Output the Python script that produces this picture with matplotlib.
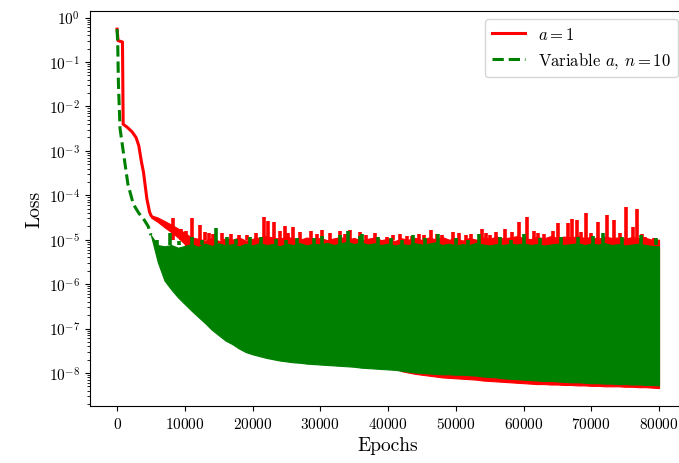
import numpy as np
import matplotlib
matplotlib.use("Agg")
import matplotlib.pyplot as plt

plt.rcParams['font.family'] = 'serif'
plt.rcParams['font.serif'] = ['cmr10']
plt.rcParams['mathtext.fontset'] = 'cm'
plt.rcParams['axes.formatter.use_mathtext'] = True

# --- early smooth part (log10 of loss) ---
red_x = [0, 150, 800, 900, 1500, 2200, 2800, 3200, 3600, 3900, 4400, 4800, 5000]
red_log = [-0.26, -0.52, -0.55, -2.40, -2.47, -2.57, -2.70, -2.88, -3.25, -3.48, -4.08, -4.38, -4.45]

green_x = [0, 100, 200, 440, 900, 1600, 2400, 3200, 3900, 4600, 5000]
green_log = [-0.26, -0.60, -1.50, -2.50, -3.00, -3.75, -4.20, -4.40, -4.53, -4.70, -4.90]

# --- oscillating band, sampled every 1000 epochs from 5000 to 80000 ---
band_x = np.arange(5000, 80001, 1000)

green_low = [-4.90, -5.50, -5.92, -6.12, -6.30, -6.45, -6.60, -6.74, -6.88, -7.03,
             -7.15, -7.27, -7.35, -7.45, -7.53, -7.58, -7.62, -7.66, -7.69, -7.72,
             -7.74, -7.76, -7.77, -7.79, -7.80, -7.81, -7.82, -7.83, -7.84, -7.85,
             -7.86, -7.88, -7.89, -7.90, -7.91, -7.92, -7.93, -7.95, -7.97, -7.99,
             -8.00, -8.01, -8.02, -8.03, -8.03, -8.04, -8.04, -8.05, -8.06, -8.08,
             -8.09, -8.10, -8.12, -8.13, -8.14, -8.15, -8.16, -8.17, -8.18, -8.18,
             -8.19, -8.20, -8.21, -8.21, -8.22, -8.23, -8.23, -8.24, -8.24, -8.25,
             -8.25, -8.26, -8.26, -8.27, -8.27, -8.28]

green_top = [-4.90, -5.12, -5.15, -5.12, -5.18, -5.14, -5.10, -5.16, -5.09, -5.14,
             -5.08, -5.13, -5.10, -5.15, -5.09, -5.13, -5.08, -5.12, -5.10, -5.15,
             -5.09, -5.12, -5.08, -5.13, -5.09, -5.11, -5.07, -5.12, -5.08, -5.05,
             -5.10, -5.06, -5.11, -5.08, -5.12, -5.09, -5.13, -5.10, -5.12, -5.08,
             -5.11, -5.09, -5.06, -5.12, -5.09, -5.13, -5.10, -5.12, -5.07, -5.11,
             -5.13, -5.10, -5.12, -5.09, -5.11, -5.08, -5.12, -5.10, -5.13, -5.11,
             -5.09, -5.12, -5.10, -5.08, -5.12, -5.09, -5.11, -5.08, -5.12, -5.10,
             -5.13, -5.11, -5.09, -5.12, -5.14, -5.15]

red_low = [-4.50, -4.60, -4.72, -4.83, -4.95, -5.10, -5.60, -6.50, -6.83, -6.98,
           -7.10, -7.22, -7.30, -7.40, -7.48, -7.53, -7.57, -7.61, -7.64, -7.67,
           -7.69, -7.71, -7.72, -7.74, -7.75, -7.76, -7.77, -7.78, -7.79, -7.80,
           -7.81, -7.83, -7.84, -7.85, -7.86, -7.87, -7.88, -7.96, -7.99, -8.02,
           -8.04, -8.06, -8.08, -8.10, -8.11, -8.12, -8.13, -8.14, -8.15, -8.17,
           -8.18, -8.19, -8.20, -8.21, -8.22, -8.23, -8.24, -8.25, -8.25, -8.26,
           -8.26, -8.27, -8.27, -8.28, -8.28, -8.29, -8.29, -8.30, -8.30, -8.30,
           -8.31, -8.31, -8.32, -8.32, -8.33, -8.34]

red_top = [-4.45, -4.50, -4.58, -4.66, -4.75, -4.85, -4.95, -4.98, -5.02, -4.96,
           -5.03, -4.97, -5.00, -4.95, -5.02, -4.98, -4.95, -4.92, -4.95, -4.98,
           -4.93, -4.97, -5.00, -4.95, -5.00, -4.96, -5.01, -4.97, -4.94, -5.00,
           -4.96, -5.02, -4.98, -4.95, -5.01, -4.98, -5.03, -4.97, -5.00, -4.96,
           -5.01, -4.95, -4.99, -4.94, -5.00, -4.97, -5.02, -4.96, -5.00, -4.95,
           -4.98, -4.93, -4.97, -4.95, -4.92, -4.96, -4.99, -4.94, -4.97, -4.92,
           -4.96, -4.93, -4.95, -4.92, -4.96, -4.94, -4.98, -4.93, -4.96, -4.95,
           -4.98, -4.94, -4.97, -4.96, -5.00, -5.00]

# spikes above the band (epoch, log10 loss)
red_spike_x = [8300, 9500, 10200, 11000, 12250, 13000, 13500, 14200, 15500, 16800,
               18000, 19200, 20500, 21700, 22300, 23100, 24000, 24800, 25300, 26000,
               27000, 28700, 29500, 30200, 31500, 32900, 33600, 34400, 35900, 36800,
               38100, 39800, 40800, 41800, 42800, 43600, 44500, 45300, 46400, 47200,
               48000, 49600, 50500, 51500, 52300, 53800, 54500, 55000, 56000, 57300,
               58300, 59400, 60500, 61500, 62200, 63000, 64300, 65100, 66500, 67100,
               67900, 68500, 69200, 70000, 71000, 72300, 73300, 74200, 75100, 76200,
               76800, 77500, 78000, 79300]
red_spike_log = [-4.51, -4.75, -4.80, -4.51, -4.66, -4.82, -4.85, -4.88, -4.85, -4.87,
                 -4.90, -4.90, -4.85, -4.49, -4.58, -4.60, -4.80, -4.69, -4.86, -4.71,
                 -4.83, -4.81, -4.88, -4.78, -4.85, -4.80, -4.87, -4.78, -4.83, -4.90,
                 -4.85, -4.94, -4.90, -4.88, -4.91, -4.92, -4.88, -4.90, -4.79, -4.87,
                 -4.90, -4.83, -4.86, -4.90, -4.88, -4.75, -4.86, -4.90, -4.83, -4.75,
                 -4.83, -4.60, -4.48, -4.81, -4.85, -4.88, -4.80, -4.63, -4.62, -4.53,
                 -4.55, -4.82, -4.40, -4.85, -4.60, -4.45, -4.55, -4.85, -4.27, -4.72,
                 -4.30, -4.88, -4.95, -4.96]

green_spike_x = [5900, 7800, 9200, 11000, 12500, 14600, 16200, 17500, 19600, 21300,
                 23500, 25000, 26500, 29000, 30200, 32900, 34150, 35900, 36100, 38500,
                 40500, 42000, 43700, 45500, 47400, 50000, 51800, 53400, 56500, 58200,
                 60000, 62500, 65500, 68000, 70300, 71800, 74500, 77300, 79500]
green_spike_log = [-5.00, -4.85, -5.02, -4.95, -5.00, -4.74, -4.94, -4.98, -4.94, -4.93,
                   -4.98, -5.00, -4.97, -4.96, -4.91, -4.89, -4.80, -4.92, -4.87, -4.95,
                   -4.97, -5.00, -4.90, -4.97, -4.87, -4.96, -5.00, -4.87, -4.95, -5.00,
                   -4.88, -4.96, -4.94, -4.95, -4.92, -4.85, -4.95, -4.90, -4.97]

red = '#ff0000'
green = '#008000'

fig = plt.figure(figsize=(6.79, 4.64), dpi=100)
ax = fig.add_axes([0.1325, 0.1228, 0.878, 0.851])
ax.set_yscale('log')

# a = 1
ax.plot(red_x, 10.0 ** np.array(red_log), color=red, lw=2.2, label=r'$a=1$', zorder=3)
ax.fill_between(band_x, 10.0 ** np.array(red_low), 10.0 ** np.array(red_top),
                color=red, lw=0.8, zorder=2)
ax.vlines(red_spike_x, 10.0 ** -5.0, 10.0 ** np.array(red_spike_log),
          color=red, lw=2.6, zorder=2)

# variable a, n = 10
ax.plot(green_x, 10.0 ** np.array(green_log), color=green, lw=2.2, ls='--',
        label=r'Variable $a$, $n=10$', zorder=4)
ax.fill_between(band_x, 10.0 ** np.array(green_low), 10.0 ** np.array(green_top),
                color=green, lw=0.8, zorder=3)
ax.vlines(green_spike_x, 10.0 ** -5.12, 10.0 ** np.array(green_spike_log),
          color=green, lw=2.6, zorder=3)

ax.set_xlim(-4000, 84000)
ax.set_xticks(np.arange(0, 80001, 10000))
ax.set_xlabel('Epochs', fontsize=14)
ax.set_ylabel('Loss', fontsize=14)
ax.tick_params(labelsize=11)
ax.legend(loc='upper right', fontsize=12)

fig.savefig('out.png', dpi=100)
